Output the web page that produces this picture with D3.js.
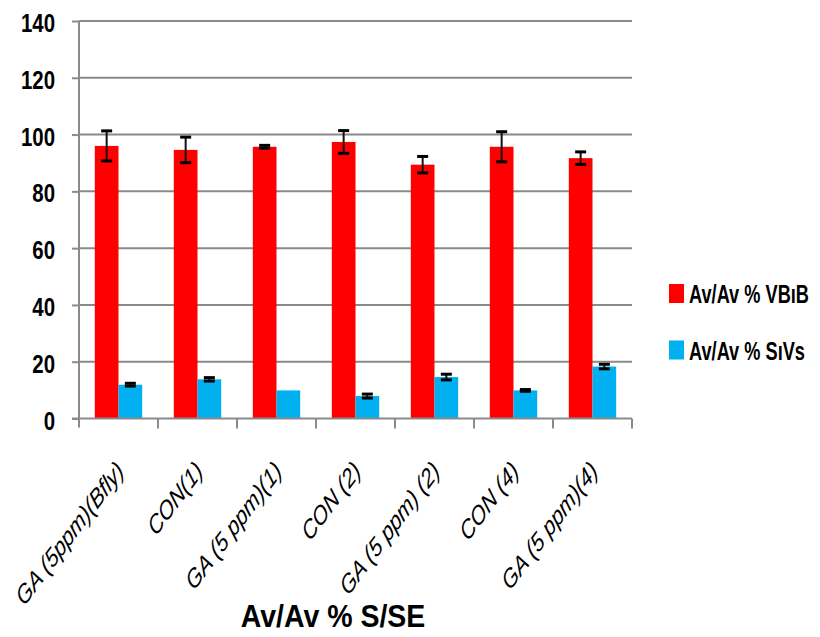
<!DOCTYPE html>
<html><head><meta charset="utf-8">
<script src="https://cdn.jsdelivr.net/npm/d3@7"></script>
<style>
body{margin:0;background:#fff;}
svg{display:block;}
</style></head>
<body>
<svg id="chart" width="820" height="637"></svg>
<script>
const categories = ["GA (5ppm)(Bfly)", "CON(1)", "GA (5 ppm)(1)", "CON (2)", "GA (5 ppm) (2)", "CON (4)", "GA (5 ppm)(4)"];
const seriesNames = ["Av/Av % VBıB", "Av/Av % SıVs"];
const seriesColors = ["#FF0000", "#00B0F0"];
const vbibValues = [96.0, 94.6, 95.7, 97.4, 89.4, 95.7, 91.7];
const vbibErrors = [5.3, 4.5, 0.5, 4.0, 2.9, 5.3, 2.2];
const sivsValues = [11.9, 13.8, 9.9, 7.9, 14.6, 9.9, 18.3];
const sivsErrors = [0.5, 0.6, 0, 0.7, 1.0, 0.3, 0.8];
const yTicks = [0, 20, 40, 60, 80, 100, 120, 140];
const xTitle = "Av/Av % S/SE";

const svg = d3.select("#chart");
const mLeft = 79, mRight = 632, mTop = 21, mBottom = 418.5;
const grid = "#8a8a8a";
const boldFont = "'Liberation Sans',Arial,sans-serif";

const x = d3.scaleBand().domain(categories).range([mLeft, mRight]).paddingInner(0).paddingOuter(0);
const x1 = d3.scaleBand().domain([0, 1]).range([0, x.bandwidth()]).paddingInner(0).paddingOuter(0.667);
const y = d3.scaleLinear().domain([0, 140]).range([mBottom, mTop]);

// gridlines
svg.append("g").selectAll("line").data(yTicks.filter(d => d > 0)).join("line")
  .attr("x1", mLeft).attr("x2", mRight)
  .attr("y1", d => y(d)).attr("y2", d => y(d))
  .attr("stroke", grid).attr("stroke-width", 2);

// y axis ticks
const yAxis = svg.append("g").attr("transform", `translate(${mLeft},0)`)
  .call(d3.axisLeft(y).tickValues(yTicks).tickSize(7).tickFormat("").tickSizeOuter(0));
yAxis.select(".domain").remove();
yAxis.selectAll(".tick line").attr("stroke", grid).attr("stroke-width", 2);
svg.append("line").attr("x1", mLeft).attr("x2", mLeft).attr("y1", mTop).attr("y2", mBottom + 9)
  .attr("stroke", grid).attr("stroke-width", 2);
// y tick labels (condensed)
svg.append("g").selectAll("text").data(yTicks).join("text")
  .attr("transform", d => `translate(55,${y(d) + 11}) scale(0.77,1)`)
  .attr("text-anchor", "end")
  .style("font-family", boldFont).style("font-weight", "bold").style("font-size", "26.5px")
  .attr("fill", "#000").text(d => d);

// bars
const series = [
  {vals: vbibValues, errs: vbibErrors, color: seriesColors[0]},
  {vals: sivsValues, errs: sivsErrors, color: seriesColors[1]}
];
series.forEach((s, si) => {
  const g = svg.append("g");
  g.selectAll("rect").data(categories).join("rect")
    .attr("x", c => x(c) + x1(si))
    .attr("width", x1.bandwidth())
    .attr("y", (c, i) => y(s.vals[i]))
    .attr("height", (c, i) => y(0) - y(s.vals[i]))
    .attr("fill", s.color);
});

// x axis line and ticks
svg.append("line").attr("x1", mLeft - 7).attr("x2", mRight).attr("y1", mBottom).attr("y2", mBottom)
  .attr("stroke", grid).attr("stroke-width", 2);
const bounds = categories.map(c => x(c)).concat([mRight]).slice(1);
svg.append("g").selectAll("line").data(bounds).join("line")
  .attr("x1", d => d).attr("x2", d => d).attr("y1", mBottom).attr("y2", mBottom + 10)
  .attr("stroke", grid).attr("stroke-width", 2);

// error bars
series.forEach((s, si) => {
  const g = svg.append("g");
  categories.forEach((c, i) => {
    if (!s.errs[i]) return;
    const cx = x(c) + x1(si) + x1.bandwidth() / 2;
    const y1 = y(s.vals[i] + s.errs[i]), y2 = y(s.vals[i] - s.errs[i]);
    g.append("line").attr("x1", cx).attr("x2", cx).attr("y1", y1).attr("y2", y2)
      .attr("stroke", "#111").attr("stroke-width", 2);
    [y1, y2].forEach(yy => g.append("line").attr("x1", cx - 5.5).attr("x2", cx + 5.5)
      .attr("y1", yy).attr("y2", yy).attr("stroke", "#000").attr("stroke-width", 3));
  });
});

// category labels
svg.append("g").selectAll("text").data(categories).join("text")
  .attr("transform", c => `translate(${x(c) + x.bandwidth() / 2 + 6.5},${mBottom + 54}) scale(0.75,1) rotate(-45)`)
  .attr("text-anchor", "end")
  .style("font-family", "'Liberation Sans',Arial,sans-serif")
  .style("font-style", "italic").style("font-size", "26.5px").attr("fill", "#000")
  .text(c => c);

// x title
svg.append("text").attr("transform", "translate(333,627) scale(0.89,1)").attr("text-anchor", "middle")
  .style("font-family", boldFont).style("font-weight", "bold").style("font-size", "32px")
  .attr("fill", "#000").text(xTitle);

// legend
const legend = svg.append("g");
const legY = [293.5, 350];
seriesNames.forEach((n, i) => {
  legend.append("rect").attr("x", 669).attr("y", legY[i] - 9.5).attr("width", 15).attr("height", 19)
    .attr("fill", seriesColors[i]);
  legend.append("text").attr("transform", `translate(689,${legY[i] + 9.5}) scale(0.7,1)`)
    .style("font-family", boldFont).style("font-weight", "bold").style("font-size", "26px")
    .attr("fill", "#000").text(n);
});
</script>
</body></html>
